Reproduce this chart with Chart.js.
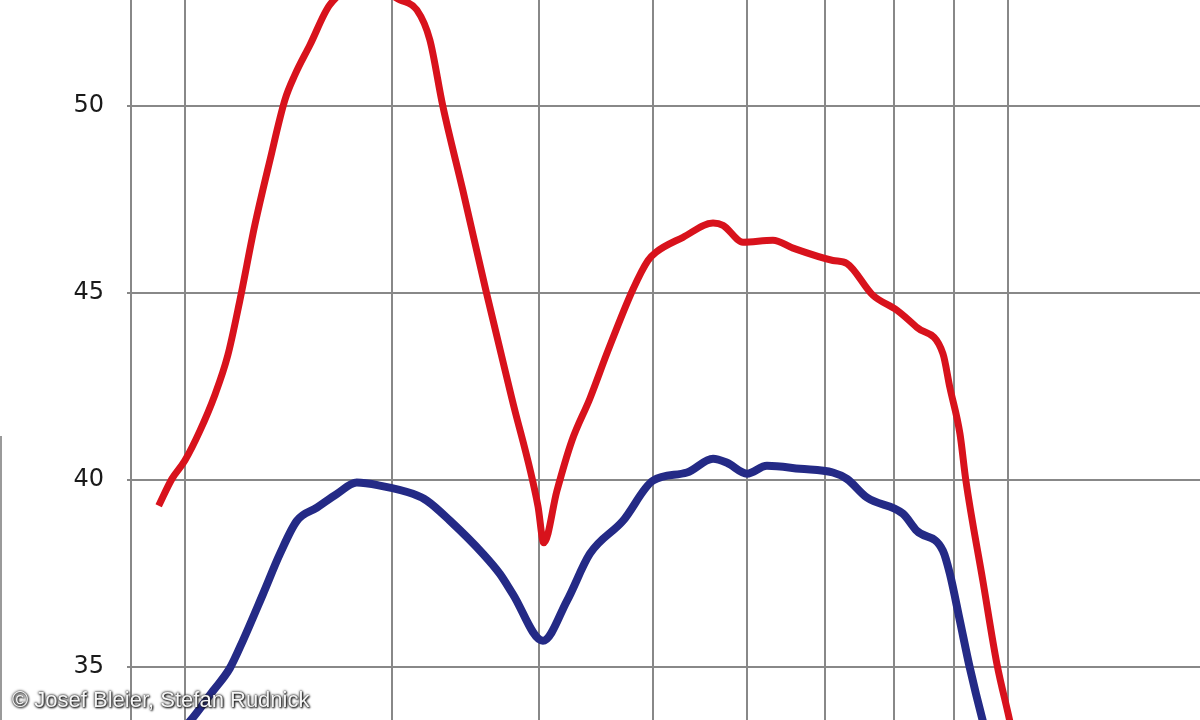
<!DOCTYPE html>
<html>
<head>
<meta charset="utf-8">
<script src="https://cdn.jsdelivr.net/npm/chart.js@4/dist/chart.umd.min.js"></script>
<style>
  html, body { margin: 0; padding: 0; background: #ffffff; overflow: hidden; }
  #wrap { position: relative; width: 1200px; height: 720px; }
  #c { position: absolute; left: 0; top: 0; }
  #edge { position: absolute; left: 0; top: 436px; width: 2px; height: 284px; background: #9a9a9a; }
  #credit {
    position: absolute; left: 12px; top: 689px;
    font-family: "Liberation Sans", Arial, sans-serif; font-size: 22px; line-height: 22px;
    color: #f6f6f6; white-space: nowrap;
    text-shadow: 0 0 2px #222, 0 0 3px #333, 1px 1px 2px #000;
  }
</style>
</head>
<body>
<div id="wrap">
  <canvas id="c" width="1200" height="720"></canvas>
  <div id="edge"></div>
  <div id="credit">© Josef Bleier, Stefan Rudnick</div>
</div>
<script>
// ---- data ----
const xGridValues = [200, 300, 400, 500, 600, 700, 800, 900, 1000];
const yTickValues = [35, 40, 45, 50];

const redFreq = [190, 195, 200, 206, 212, 217.5, 222.7, 229.3, 236.2, 243.2, 248, 255.4, 265.6, 284.4, 304.5, 314.8, 322.9, 331.2, 344.4, 360.3, 379.1, 398.9, 403.5, 414, 426.3, 441.6, 457.5, 480.4, 494.7, 502.5, 529.8, 561.8, 572.9, 595.7, 631.6, 656.9, 710.2, 729.9, 768, 805, 837, 880.7, 892.8, 910.5, 921.2, 952.3, 978.8, 1003.8, 1019.7];
const redValues = [39.31, 40.03, 40.52, 41.32, 42.26, 43.33, 44.80, 46.81, 48.55, 50.16, 50.83, 51.63, 52.71, 53.24, 52.84, 52.57, 51.77, 50.00, 47.75, 45.07, 42.18, 39.31, 38.32, 39.71, 41.05, 42.18, 43.46, 45.10, 45.87, 46.09, 46.49, 46.87, 46.81, 46.36, 46.41, 46.20, 45.87, 45.79, 44.94, 44.54, 44.08, 43.38, 42.47, 41.24, 39.98, 37.30, 35.08, 33.55, 32.48];

const blueFreq = [192.3, 202, 211.3, 218.4, 224, 233, 240.9, 249, 258.9, 269.3, 279.9, 292.8, 312.3, 321, 335.9, 358.2, 370.3, 379.8, 402.8, 422.2, 441.6, 471.1, 499.4, 533.9, 561.8, 577.4, 600.4, 624.2, 665.9, 710.2, 729.9, 759.1, 814.4, 837, 880.7, 892.8, 910.5, 928.4, 952.3, 965.5];
const blueValues = [32.88, 33.55, 34.36, 34.97, 35.70, 36.95, 38.03, 38.91, 39.26, 39.63, 39.93, 39.85, 39.63, 39.45, 38.91, 38.03, 37.49, 36.95, 35.70, 36.77, 38.03, 38.91, 39.98, 40.20, 40.57, 40.46, 40.17, 40.38, 40.30, 40.20, 40.03, 39.53, 39.10, 38.64, 38.11, 37.49, 36.23, 34.97, 33.55, 32.88];

const xMin = 180, xMax = 1456;
const yMin = 33.583, yMax = 52.834;

const toPoints = (xs, ys) => xs.map((x, i) => ({ x: x, y: ys[i] }));

const gridColor = '#888888';

new Chart(document.getElementById('c'), {
  type: 'line',
  data: {
    datasets: [
      {
        data: toPoints(redFreq, redValues),
        borderColor: '#d8121c',
        borderWidth: 7,
        pointRadius: 0,
        cubicInterpolationMode: 'monotone',
        fill: false
      },
      {
        data: toPoints(blueFreq, blueValues),
        borderColor: '#242a86',
        borderWidth: 8,
        pointRadius: 0,
        cubicInterpolationMode: 'monotone',
        fill: false
      }
    ]
  },
  options: {
    responsive: false,
    animation: false,
    devicePixelRatio: 1,
    layout: { padding: 0 },
    plugins: { legend: { display: false }, tooltip: { enabled: false }, title: { display: false } },
    scales: {
      x: {
        type: 'logarithmic',
        position: 'bottom',
        min: xMin,
        max: xMax,
        afterBuildTicks: (s) => { s.ticks = xGridValues.map(v => ({ value: v })); },
        afterFit: (s) => { s.height = 0; s.paddingLeft = 0; s.paddingRight = 0; },
        ticks: { display: false },
        grid: { color: gridColor, lineWidth: 2, drawTicks: false },
        border: { display: false }
      },
      y: {
        type: 'linear',
        position: 'left',
        min: yMin,
        max: yMax,
        afterBuildTicks: (s) => { s.ticks = yTickValues.map(v => ({ value: v })); },
        afterFit: (s) => { s.width = 131; s.paddingTop = 0; s.paddingBottom = 0; },
        ticks: {
          padding: 23,
          color: '#1a1a1a',
          font: { family: 'DejaVu Sans', size: 24 }
        },
        grid: { color: gridColor, lineWidth: 2, tickLength: 4, drawTicks: true },
        border: { display: true, color: gridColor, width: 2 }
      }
    }
  }
});
</script>
</body>
</html>
